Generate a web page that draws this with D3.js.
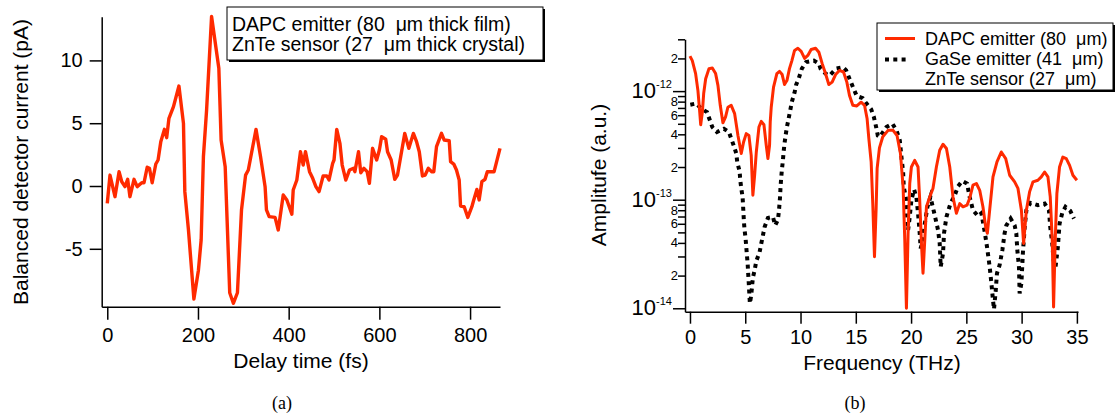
<!DOCTYPE html>
<meta charset="utf-8">
<style>
body { margin: 0; background: #fff; }
svg { font-family: "Liberation Sans", Arial, sans-serif; }
.axis path, .axis line { stroke: #000; stroke-width: 1.5px; }
.axis text { font-size: 20px; fill: #000; font-family: "Liberation Sans", Arial, sans-serif; }
.trace { fill: none; stroke: #ff2a00; stroke-width: 3px; stroke-linejoin: round; }
.trace.thick { stroke-width: 3.4px; }
.dots { fill: none; stroke: #000; stroke-width: 4px; stroke-dasharray: 4 4.3; }
.title { font-size: 21px; }
.legend text { white-space: pre; }
.caption { font-family: "Liberation Serif", "Times New Roman", serif; font-size: 18px; }
</style>
<body>
<script src="https://d3js.org/d3.v7.min.js"></script>
<script>

// (a) time-domain trace: delay time (fs) and detector current (pA)
var delayTime = [0,6,17,26,32,39,45,50,59,66,76,81,88,93,99,107,112,118,126,131,136,146,158,168,171,179,191,201,207,212,219,230,246,251,260,270,278,287,296,305,311,328,338,348,351,357,370,377,388,396,407,410,418,426,432,437,446,453,460,467,476,484,489,497,500,506,513,518,526,534,543,546,554,559,566,573,578,585,594,600,605,614,618,626,634,640,647,656,665,675,682,688,695,701,708,715,720,726,737,743,754,757,764,770,776,779,787,795,804,807,815,820,826,833,838,853,866];
var current = [-1.38,0.87,-0.85,1.14,0.34,-0.05,0.53,-0.85,0.53,-0.05,0.26,0.26,1.49,1.41,0.26,1.75,2.07,3.53,4.51,3.85,5.39,6.32,7.96,4.99,-0.45,-3.5,-9.0,-6.7,-4.3,2.33,6.05,13.5,9.37,3.66,1.54,-8.5,-9.34,-8.5,-1.9,0.87,1.27,4.51,2.33,-0.05,-1.9,-2.44,-2.5,-3.5,-0.72,-1.11,-2.25,-0.32,0.48,2.73,1.67,2.73,1.14,0.61,-0.05,-0.45,0.80,0.80,0.48,1.8,2.07,4.51,3.4,1.67,0.48,1.27,1.41,1.14,2.73,1.06,1.41,1.14,0.21,3.0,2.07,2.87,3.93,3.72,2.73,2.07,0.53,0.87,2.33,4.19,3.0,4.19,3.53,2.73,0.80,0.87,1.41,1.14,1.14,3.13,4.19,3.66,3.6,1.94,1.75,1.27,0.48,-1.59,-1.65,-2.5,-1.65,-1.25,-0.27,-1.11,0.34,0.53,1.14,1.14,3.0];
var timeTicks = [0, 200, 400, 600, 800];
var currentTicks = [-5, 0, 5, 10];

// (b) spectra: frequency (THz) and amplitude in units of 1e-13 a.u.
var UNIT = 1e-13;
var dapcFreq = [0,0.21,0.51,0.72,0.87,0.97,1.12,1.24,1.42,1.72,2.02,2.32,2.53,2.74,2.98,3.22,3.43,3.73,4.04,4.34,4.64,4.85,5.09,5.33,5.54,5.69,5.85,6.0,6.24,6.45,6.69,6.9,7.05,7.2,7.26,7.35,7.56,7.86,8.1,8.34,8.55,8.77,9.0,9.22,9.46,9.76,10.06,10.37,10.66,10.96,11.36,11.66,11.96,12.26,12.56,12.86,13.17,13.52,13.89,14.19,14.43,14.73,15.09,15.48,15.79,16.02,16.18,16.39,16.54,16.69,16.84,16.93,17.14,17.44,17.92,18.37,18.73,19.04,19.28,19.43,19.58,19.73,19.88,20.03,20.33,20.63,20.78,20.94,21.08,21.24,21.39,21.69,21.98,22.29,22.59,22.89,23.2,23.5,23.79,24.1,24.4,24.7,25.06,25.3,25.6,25.91,26.21,26.5,26.75,26.9,27.11,27.41,27.77,28.16,28.56,28.92,29.37,29.67,29.98,30.18,30.43,30.72,31.03,31.47,31.78,32.08,32.38,32.59,32.77,32.89,33.04,33.19,33.43,33.73,34.04,34.34,34.64,35.0];
var dapcAmp = [21,19.1,14.5,10.1,6.65,4.9,6.4,9.5,13,16.1,16.3,14.5,11.3,7.4,5.1,5.8,7.1,7.4,6.2,3.9,2.66,3.4,4.06,3.9,2.56,1.1,1.68,2.75,4.67,5.27,4.9,3.17,2.39,3.17,5.2,7.1,10.9,14.5,15.2,14.2,11.5,12.5,16.1,19.1,23.7,24.8,23.2,20,21.3,24.2,24.8,22.8,17.9,14.5,11.5,12.1,14.2,15.5,15,12.1,9.1,7.4,7.3,7.9,7.4,5.6,3.65,2.23,0.89,0.298,0.83,1.94,3.0,3.8,4.35,4.35,3.9,2.66,1.31,0.425,0.1,0.49,1.41,2.0,2.3,2.0,0.99,0.395,0.21,0.425,0.86,1.06,1.27,2.0,2.85,3.24,2.96,2.0,1.06,0.75,0.92,0.86,0.89,1.03,1.36,1.41,1.22,0.86,0.56,0.49,0.80,1.62,2.23,2.75,2.39,1.68,1.46,1.27,0.80,0.395,0.80,1.18,1.46,1.51,1.62,1.8,1.62,1.06,0.425,0.103,0.425,1.14,2.0,2.47,2.39,2.07,1.68,1.51];
var gaseFreq = [0.03,0.57,1.02,1.54,2.02,2.44,3.07,3.52,3.95,4.19,4.28,4.49,4.55,4.64,4.76,4.8,4.84,4.88,4.94,5.03,5.09,5.15,5.22,5.26,5.31,5.35,5.39,5.42,5.54,5.69,5.85,6.0,6.3,6.45,6.6,6.75,7.05,7.5,7.71,7.95,8.04,8.1,8.16,8.19,8.25,8.31,8.4,8.47,8.55,8.65,8.77,8.92,9.07,9.22,9.46,9.61,9.85,10.12,10.51,11.21,11.66,11.81,12.26,12.62,13.22,13.83,14.13,14.43,14.79,15.09,15.63,15.88,16.39,16.63,16.84,16.99,17.17,17.77,18.32,18.68,18.98,19.13,19.28,19.34,19.52,19.73,19.88,20.03,20.27,20.48,20.63,20.78,20.87,21.08,21.24,21.48,21.75,22.14,22.44,22.59,22.68,22.89,22.98,23.2,23.56,23.95,24.25,24.64,25.06,25.3,25.6,26.06,26.36,26.66,26.87,27.11,27.26,27.41,27.5,27.65,27.77,28.01,28.26,28.46,28.62,29.01,29.37,29.52,29.61,29.76,29.82,29.98,30.12,30.28,30.43,30.79,31.47,32.08,32.47,32.59,32.77,32.89,33.07,33.28,33.43,33.67,33.97,34.4,34.73];
var gaseAmp = [7.5,7.7,6.9,6.4,4.67,4.2,4.5,4.2,3.17,2.66,2.2,1.83,1.51,1.27,1.06,0.89,0.75,0.625,0.525,0.44,0.368,0.31,0.254,0.214,0.176,0.147,0.124,0.111,0.132,0.191,0.225,0.272,0.33,0.395,0.47,0.56,0.68,0.695,0.58,0.65,0.77,0.92,1.1,1.31,1.57,1.87,2.26,2.75,3.29,3.9,4.67,5.57,6.65,8.0,9.7,11.5,13.2,16.1,18.5,19.1,17.9,16.1,14.5,13.9,16.1,16.6,15.5,13,10.6,9.0,8.6,7.9,6.8,5.8,4.67,3.9,3.78,4.67,5.0,4.35,3.52,2.47,1.8,1.31,1.06,0.525,0.695,0.99,1.24,1.06,0.75,0.49,0.356,0.425,0.6,0.86,1.06,0.72,0.525,0.395,0.241,0.32,0.49,0.695,0.92,1.1,1.33,1.49,1.41,1.06,0.8,0.705,0.75,0.506,0.368,0.241,0.172,0.119,0.098,0.142,0.21,0.25,0.344,0.49,0.58,0.67,0.58,0.49,0.344,0.241,0.137,0.17,0.33,0.56,0.8,0.935,0.89,0.92,0.8,0.56,0.395,0.278,0.241,0.368,0.6,0.75,0.86,0.79,0.67];
var freqTicks = [0, 5, 10, 15, 20, 25, 30, 35];
var majorAmpTicks = [1e-14, 1e-13, 1e-12];
var minorAmpTicks = [2e-14,3e-14,4e-14,5e-14,6e-14,7e-14,8e-14,9e-14,2e-13,3e-13,4e-13,5e-13,6e-13,7e-13,8e-13,9e-13,2e-12,3e-12];
var minorAmpLabels = [2e-14,4e-14,6e-14,8e-14,2e-13,4e-13,6e-13,8e-13,2e-12];

var svg = d3.select("body").append("svg")
  .attr("width", 1116)
  .attr("height", 414);

// ---------- panel (a) ----------
var xA = d3.scaleLinear().domain([-12.3, 866]).range([101.7, 500]);
var yA = d3.scaleLinear().domain([-9.61, 13.48]).range([306.7, 16.7]);

svg.append("g").attr("class", "axis")
  .attr("transform", "translate(0," + yA.range()[0] + ")")
  .call(d3.axisBottom(xA).tickValues(timeTicks).tickSize(13).tickSizeOuter(0)
    .tickPadding(8).tickFormat(String));

svg.append("g").attr("class", "axis")
  .attr("transform", "translate(" + xA.range()[0] + ",0)")
  .call(d3.axisLeft(yA).tickValues(currentTicks).tickSize(12).tickSizeOuter(0)
    .tickPadding(7).tickFormat(String));

svg.append("path")
  .datum(d3.zip(delayTime, current))
  .attr("class", "trace thick")
  .attr("d", d3.line().x(function(d) { return xA(d[0]); }).y(function(d) { return yA(d[1]); }));

svg.append("text").attr("class", "title")
  .attr("transform", "translate(28,162) rotate(-90)")
  .attr("text-anchor", "middle")
  .text("Balanced detector current (pA)");

svg.append("text").attr("class", "title")
  .attr("x", 301).attr("y", 368)
  .attr("text-anchor", "middle")
  .text("Delay time (fs)");

// legend (a)
var legA = svg.append("g").attr("class", "legend");
legA.append("rect").attr("x", 229).attr("y", 9).attr("width", 316).attr("height", 53).attr("fill", "#000");
legA.append("rect").attr("x", 227).attr("y", 7).attr("width", 316).attr("height", 53)
  .attr("fill", "#fff").attr("stroke", "#000").attr("stroke-width", 1);
legA.selectAll("text.lt")
  .data(["DAPC emitter (80  \u03bcm thick film)", "ZnTe sensor (27  \u03bcm thick crystal)"])
  .enter().append("text")
    .attr("x", 232)
    .attr("y", function(d, i) { return 30.5 + i * 20; })
    .style("font-size", "19.5px")
    .text(function(d) { return d; });

// ---------- panel (b) ----------
var xB = d3.scaleLinear().domain([-0.45, 35.1]).range([685, 1078]);
var yB = d3.scaleLog().domain([9.3e-15, 3e-12]).range([311.7, 39.3]);

svg.append("g").attr("class", "axis")
  .attr("transform", "translate(0," + yB.range()[0] + ")")
  .call(d3.axisBottom(xB).tickValues(freqTicks).tickSize(12).tickSizeOuter(0)
    .tickPadding(6).tickFormat(String));

var gy = svg.append("g").attr("class", "axis")
  .attr("transform", "translate(" + xB.range()[0] + ",0)");
gy.call(d3.axisLeft(yB).tickValues(majorAmpTicks).tickSize(12).tickSizeOuter(0).tickFormat(""));
var gyMinor = svg.append("g").attr("class", "axis")
  .attr("transform", "translate(" + xB.range()[0] + ",0)")
  .call(d3.axisLeft(yB).tickValues(minorAmpTicks).tickSize(7).tickSizeOuter(0).tickFormat(""));
gyMinor.select(".domain").remove();

gy.selectAll("text.major")
  .data(majorAmpTicks)
  .enter().append("text")
    .attr("class", "major")
    .attr("x", -13)
    .attr("y", function(d) { return yB(d) + 7; })
    .attr("text-anchor", "end")
    .each(function(d) {
      var t = d3.select(this);
      t.append("tspan").style("font-size", "22px").text("10");
      t.append("tspan").attr("dy", -10).style("font-size", "11px")
        .text(String(Math.round(Math.log10(d))));
    });

gy.selectAll("text.minor")
  .data(minorAmpLabels)
  .enter().append("text")
    .attr("class", "minor")
    .attr("x", -7)
    .attr("y", function(d) { return yB(d) + 4.5; })
    .attr("text-anchor", "end")
    .style("font-size", "13px")
    .text(function(d) { return Math.round(d / Math.pow(10, Math.floor(Math.log10(d) + 1e-9))); });

var lineB = d3.line()
  .x(function(d) { return xB(d[0]); })
  .y(function(d) { return yB(d[1] * UNIT); });

svg.append("path")
  .datum(d3.zip(gaseFreq, gaseAmp))
  .attr("class", "dots")
  .attr("d", lineB);

svg.append("path")
  .datum(d3.zip(dapcFreq, dapcAmp))
  .attr("class", "trace")
  .attr("d", lineB);

svg.append("text").attr("class", "title")
  .attr("transform", "translate(606,175) rotate(-90)")
  .attr("text-anchor", "middle")
  .text("Amplitufe (a.u.)");

svg.append("text").attr("class", "title")
  .attr("x", 882).attr("y", 370)
  .attr("text-anchor", "middle")
  .text("Frequency (THz)");

// legend (b)
var legB = svg.append("g").attr("class", "legend");
legB.append("rect").attr("x", 879).attr("y", 25).attr("width", 236).attr("height", 67).attr("fill", "#000");
legB.append("rect").attr("x", 877).attr("y", 23).attr("width", 236).attr("height", 67)
  .attr("fill", "#fff").attr("stroke", "#000").attr("stroke-width", 1);
legB.append("line").attr("class", "trace").attr("x1", 885).attr("x2", 915).attr("y1", 38.5).attr("y2", 38.5);
legB.append("line").attr("class", "dots").attr("x1", 885).attr("x2", 907).attr("y1", 59.5).attr("y2", 59.5);
legB.selectAll("text.lt")
  .data(["DAPC emitter (80  \u03bcm)", "GaSe emitter (41  \u03bcm)", "ZnTe sensor (27  \u03bcm)"])
  .enter().append("text")
    .attr("x", 925)
    .attr("y", function(d, i) { return 45 + i * 20; })
    .style("font-size", "18px")
    .text(function(d) { return d; });

// captions
svg.append("text").attr("class", "caption").attr("x", 282).attr("y", 409).attr("text-anchor", "middle").text("(a)");
svg.append("text").attr("class", "caption").attr("x", 855).attr("y", 409).attr("text-anchor", "middle").text("(b)");

</script>
</body>
